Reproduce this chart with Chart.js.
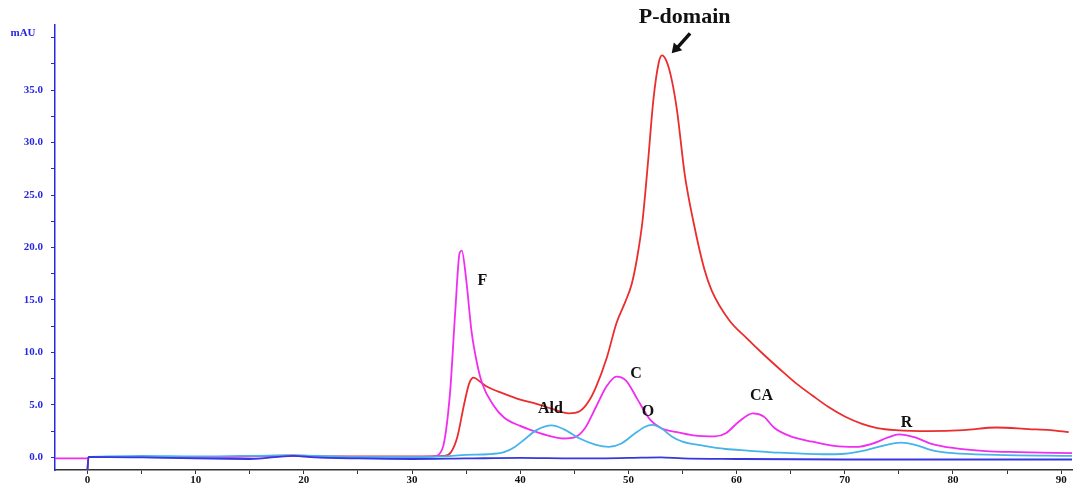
<!DOCTYPE html>
<html>
<head>
<meta charset="utf-8">
<script src="https://cdn.jsdelivr.net/npm/chart.js@4.4.0/dist/chart.umd.min.js"></script>
<style>
  html, body { margin: 0; padding: 0; background: #fff; }
  #wrap { width: 1076px; height: 486px; }
</style>
</head>
<body>
<div id="wrap"><canvas id="myChart" width="1076" height="486"></canvas></div>
<script>
// elution volume (x) and absorbance in mAU (y)
const redX = [0, 0.1, 10, 19, 22, 30, 33, 33.6, 34.2, 34.8, 35.3, 35.7, 36.3, 37, 38.4, 40, 41.5, 43, 44.5, 45.5, 46.3, 47, 48, 48.9, 49.7, 50.3, 50.8, 51.3, 51.8, 52.3, 52.8, 53.1, 53.5, 54, 54.5, 55.2, 56, 57, 57.7, 59.3, 61, 62.4, 64, 65.5, 67, 68.5, 70, 71.6, 73, 74.7, 77.8, 81, 84, 87, 89, 90.7];
const redY = [-1.2, 0.05, 0.0, 0.2, 0.1, 0.1, 0.15, 0.5, 2, 5, 7.1, 7.6, 7.2, 6.7, 6.1, 5.5, 5.1, 4.6, 4.2, 4.4, 5.3, 6.7, 9.5, 12.8, 14.8, 16.5, 19, 22.5, 28, 34, 37.6, 38.3, 37.8, 36, 33, 27, 22.5, 18, 15.9, 13.1, 11.3, 9.9, 8.4, 7.05, 5.9, 4.8, 3.9, 3.2, 2.8, 2.6, 2.5, 2.6, 2.85, 2.7, 2.6, 2.4];

const pinkX = [-3, -0.1, 0.2, 10, 19, 22, 30, 32, 32.8, 33.5, 34, 34.4, 34.6, 35, 35.5, 36, 36.5, 37.5, 38.5, 40, 41, 42.5, 44, 45, 46, 47, 48, 48.9, 49.8, 50.8, 52, 53, 54.5, 56, 58, 59, 60.2, 61.5, 62.5, 63.5, 65, 67, 69, 71, 72.5, 74, 75, 76.5, 78, 80, 83, 86, 91];
const pinkY = [-0.1, -0.1, 0.05, 0.0, 0.15, 0.0, 0.05, 0.1, 0.8, 6, 14, 19.5, 19.7, 17, 12, 9, 7.0, 5, 3.8, 3.0, 2.6, 2.1, 1.8, 1.9, 2.8, 4.8, 6.8, 7.7, 7.3, 5.6, 3.6, 2.8, 2.4, 2.1, 2.0, 2.3, 3.4, 4.2, 3.9, 2.8, 2.0, 1.5, 1.1, 1.0, 1.3, 1.9, 2.2, 1.9, 1.3, 0.9, 0.6, 0.5, 0.4];

const cyanX = [0.1, 5, 10, 19, 25, 30, 33, 35, 37, 38.5, 39.5, 40.5, 41.5, 42.9, 44, 45.5, 47, 48.2, 49.3, 50.5, 51.5, 52.2, 53, 54, 55, 57, 59, 61, 64, 68, 70, 72, 73.5, 75.2, 76.5, 78, 80, 84, 91];
const cyanY = [0.05, 0.15, 0.1, 0.2, 0.05, 0.05, 0.1, 0.25, 0.3, 0.5, 1.0, 1.8, 2.6, 3.05, 2.7, 1.8, 1.2, 1.0, 1.3, 2.2, 2.9, 3.1, 2.8, 2.0, 1.5, 1.1, 0.8, 0.65, 0.45, 0.3, 0.35, 0.7, 1.1, 1.4, 1.2, 0.7, 0.4, 0.25, 0.15];

const blueX = [0, 0.1, 5, 10, 15, 19, 21, 25, 30, 35, 40, 45, 50, 53, 55, 60, 70, 80, 91];
const blueY = [-1.2, 0.05, 0.0, -0.1, -0.15, 0.15, 0.0, -0.1, -0.15, -0.1, -0.05, -0.1, -0.05, 0.0, -0.1, -0.15, -0.2, -0.2, -0.2];

const xTicks = [0, 5, 10, 15, 20, 25, 30, 35, 40, 45, 50, 55, 60, 65, 70, 75, 80, 85, 90];
const yTicks = [0, 2.5, 5, 7.5, 10, 12.5, 15, 17.5, 20, 22.5, 25, 27.5, 30, 32.5, 35, 37.5, 40];

// peak names and where they sit (data coordinates)
const peakNames = ['F', 'Ald', 'C', 'O', 'CA', 'R'];
const peakX = [36.5, 42.8, 50.7, 51.8, 62.3, 75.7];
const peakY = [16.8, 4.6, 8.0, 4.3, 5.9, 3.3];

function pts(xs, ys) {
  return xs.map((x, i) => ({ x: x, y: ys[i] }));
}

const SERIF = '"Liberation Serif", "DejaVu Serif", serif';
const AXIS_BLUE = 'rgb(40,40,225)';

const labelsPlugin = {
  id: 'peakLabels',
  afterDatasetsDraw(chart) {
    const c = chart.ctx;
    const xs = chart.scales.x, ys = chart.scales.y;
    c.save();
    c.fillStyle = '#111';
    c.textAlign = 'center';
    c.textBaseline = 'middle';
    c.font = 'bold 16px ' + SERIF;
    peakNames.forEach((n, i) => {
      c.fillText(n, xs.getPixelForValue(peakX[i]), ys.getPixelForValue(peakY[i]));
    });

    // P-domain title + arrow pointing at the big peak
    c.font = 'bold 22px ' + SERIF;
    c.fillText('P-domain', xs.getPixelForValue(55.2), ys.getPixelForValue(41.9));
    const x1 = xs.getPixelForValue(55.7), y1 = ys.getPixelForValue(40.4);
    const x2 = xs.getPixelForValue(54.0), y2 = ys.getPixelForValue(38.5);
    c.strokeStyle = '#111';
    c.lineWidth = 3.5;
    c.beginPath();
    c.moveTo(x1, y1);
    c.lineTo(x2 + 5, y2 - 5);
    c.stroke();
    const ang = Math.atan2(y2 - y1, x2 - x1);
    c.beginPath();
    c.moveTo(x2, y2);
    c.lineTo(x2 - 11 * Math.cos(ang - 0.55), y2 - 11 * Math.sin(ang - 0.55));
    c.lineTo(x2 - 11 * Math.cos(ang + 0.55), y2 - 11 * Math.sin(ang + 0.55));
    c.closePath();
    c.fill();

    // unit at top of y axis
    c.fillStyle = AXIS_BLUE;
    c.font = 'bold 11px ' + SERIF;
    c.fillText('mAU', 23, 33);
    c.restore();
  }
};

document.addEventListener('DOMContentLoaded', function () {
  const ctx = document.getElementById('myChart');

  const line = (label, xs, ys, color) => ({
    label: label,
    data: pts(xs, ys),
    borderColor: color,
    borderWidth: 1.8,
    pointRadius: 0,
    fill: false,
    cubicInterpolationMode: 'monotone'
  });

  new Chart(ctx, {
    type: 'line',
    data: {
      datasets: [
        line('baseline', blueX, blueY, 'rgb(55,55,225)'),
        line('cyan', cyanX, cyanY, 'rgb(70,180,235)'),
        line('magenta', pinkX, pinkY, 'rgb(240,45,240)'),
        line('red', redX, redY, 'rgb(235,45,45)')
      ]
    },
    options: {
      responsive: false,
      animation: false,
      layout: { padding: { top: 25, right: 4, left: 0, bottom: 0 } },
      plugins: {
        legend: { display: false },
        tooltip: { enabled: false }
      },
      scales: {
        x: {
          type: 'linear',
          min: -3,
          max: 91,
          afterBuildTicks: s => { s.ticks = xTicks.map(v => ({ value: v })); },
          afterFit: s => { s.height = 16; },
          border: { color: '#333', width: 1.5 },
          grid: { drawOnChartArea: false, tickLength: 4, color: '#333' },
          ticks: {
            autoSkip: false,
            maxRotation: 0,
            padding: 0,
            color: '#111',
            font: { family: SERIF, size: 11, weight: 'bold' },
            callback: v => (v % 10 === 0 ? String(v) : '')
          }
        },
        y: {
          min: -1.2,
          max: 41.2,
          afterBuildTicks: s => { s.ticks = yTicks.map(v => ({ value: v })); },
          afterFit: s => { s.width = 55; },
          border: { color: AXIS_BLUE, width: 1.5 },
          grid: { drawOnChartArea: false, tickLength: 4, color: AXIS_BLUE },
          ticks: {
            autoSkip: false,
            padding: 8,
            color: AXIS_BLUE,
            font: { family: SERIF, size: 11, weight: 'bold' },
            callback: v => (v % 5 === 0 && v <= 35 ? v.toFixed(1) : '')
          }
        }
      }
    },
    plugins: [labelsPlugin]
  });
});
</script>
</body>
</html>
